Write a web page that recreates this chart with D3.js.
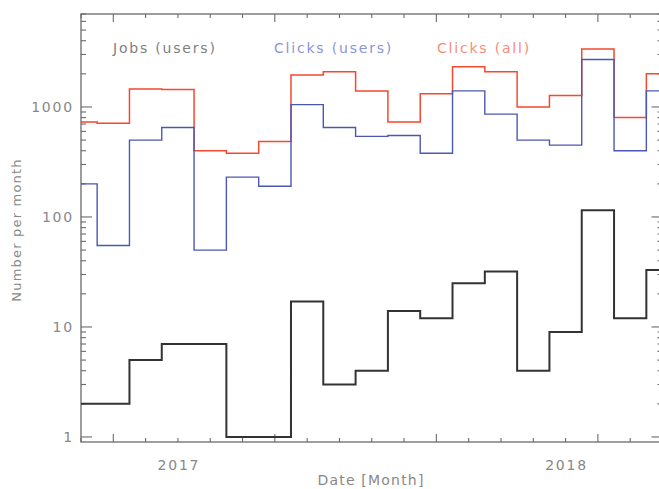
<!DOCTYPE html>
<html>
<head>
<meta charset="utf-8">
<script src="https://cdn.jsdelivr.net/npm/d3@7"></script>
<style>
  body { margin: 0; background: #fff; }
  text { font-family: "DejaVu Sans", sans-serif; }
</style>
</head>
<body>
<svg id="chart" width="659" height="489"></svg>
<script>
// Monthly activity counts, Oct 2016 – Apr 2018
const months = ["2016-10","2016-11","2016-12","2017-01","2017-02","2017-03","2017-04",
                "2017-05","2017-06","2017-07","2017-08","2017-09","2017-10","2017-11",
                "2017-12","2018-01","2018-02","2018-03","2018-04"];
const jobsUsers   = [2, 2, 5, 7, 7, 1, 1, 17, 3, 4, 14, 12, 25, 32, 4, 9, 115, 12, 33];
const clicksUsers = [200, 55, 500, 650, 50, 230, 190, 1050, 650, 540, 550, 380, 1400, 860, 500, 450, 2700, 400, 1400];
const clicksAll   = [730, 710, 1460, 1440, 400, 380, 485, 1950, 2090, 1400, 730, 1320, 2320, 2090, 1000, 1270, 3360, 800, 2000];

// Long x ticks every five months; year labels sit on January
const majorTickMonths = ["2016-11","2017-04","2017-09","2018-02"];
const yMajorTicks = [1, 10, 100, 1000];
const yTickLabels = ["1", "10", "100", "1000"];
const seriesNames = ["Jobs (users)", "Clicks (users)", "Clicks (all)"];

const svg = d3.select("#chart");
const plotLeft = 81, plotRight = 662.5, plotTop = 14, plotBottom = 442;

const x = d3.scaleLinear().domain([0, months.length - 1]).range([plotLeft, plotRight]);
const y = d3.scaleLog().domain([0.9, 7000]).range([plotBottom, plotTop]);

const axisColor = "#6a6a6a";
const textColor = "#888";
const fontSize = 14, spacing = 1.8, titleSpacing = 1.2;

// Plot frame
svg.append("rect")
  .attr("x", plotLeft).attr("y", plotTop)
  .attr("width", plotRight - plotLeft).attr("height", plotBottom - plotTop)
  .attr("fill", "none").attr("stroke", axisColor).attr("stroke-width", 1.3);

// X ticks (bottom and top)
const monthIdx = months.map((m, i) => i);
const xTickLen = i => majorTickMonths.includes(months[i]) ? 8 : 4;
const xt = svg.append("g").attr("stroke", axisColor).attr("stroke-width", 1.1);
xt.selectAll(".xb").data(monthIdx).join("line")
  .attr("x1", d => x(d)).attr("x2", d => x(d))
  .attr("y1", plotBottom).attr("y2", d => plotBottom - xTickLen(d));
xt.selectAll(".xt").data(monthIdx).join("line")
  .attr("x1", d => x(d)).attr("x2", d => x(d))
  .attr("y1", plotTop).attr("y2", d => plotTop + xTickLen(d));

// Year labels under the January ticks
const janIdx = monthIdx.filter(i => months[i].endsWith("-01"));
svg.selectAll(".year").data(janIdx).join("text")
  .attr("x", d => x(d) + 1).attr("y", 470)
  .attr("text-anchor", "middle")
  .attr("font-size", fontSize).attr("letter-spacing", spacing)
  .attr("fill", textColor)
  .text(d => months[d].slice(0, 4));

// Y ticks: decades long, 2..9 short, on left and right
const yMinor = [];
for (let e = 0; e < 4; e++) for (let k = 2; k <= 9; k++) {
  const v = k * Math.pow(10, e);
  if (v <= 7000) yMinor.push(v);
}
const yt = svg.append("g").attr("stroke", axisColor).attr("stroke-width", 1.1);
const yTicks = yMajorTicks.map(v => ({v, len: 11})).concat(yMinor.map(v => ({v, len: 5})));
yt.selectAll(".yl").data(yTicks).join("line")
  .attr("x1", plotLeft).attr("x2", d => plotLeft + d.len)
  .attr("y1", d => y(d.v)).attr("y2", d => y(d.v));
yt.selectAll(".yr").data(yTicks).join("line")
  .attr("x1", plotRight).attr("x2", d => plotRight - d.len)
  .attr("y1", d => y(d.v)).attr("y2", d => y(d.v));

svg.selectAll(".ylab").data(yMajorTicks).join("text")
  .attr("x", 74).attr("y", d => y(d))
  .attr("dy", "0.36em")
  .attr("text-anchor", "end")
  .attr("font-size", fontSize).attr("letter-spacing", spacing)
  .attr("fill", textColor)
  .text((d, i) => yTickLabels[i]);

// Axis titles
svg.append("text")
  .attr("x", 371).attr("y", 485)
  .attr("text-anchor", "middle")
  .attr("font-size", fontSize).attr("letter-spacing", titleSpacing)
  .attr("fill", textColor)
  .text("Date [Month]");
svg.append("text")
  .attr("transform", "translate(21,230) rotate(-90)")
  .attr("text-anchor", "middle")
  .attr("font-size", 13).attr("letter-spacing", titleSpacing)
  .attr("fill", textColor)
  .text("Number per month");

// Histogram-style step lines
svg.append("clipPath").attr("id", "plot-clip")
  .append("rect").attr("x", plotLeft).attr("y", plotTop)
  .attr("width", plotRight - plotLeft).attr("height", plotBottom - plotTop);

const line = d3.line()
  .x((d, i) => x(i))
  .y(d => y(d))
  .curve(d3.curveStep);

const series = [
  {name: seriesNames[2], values: clicksAll,   color: "#f5482c", width: 1.5, label: "#f58d78", lx: 437},
  {name: seriesNames[1], values: clicksUsers, color: "#4a58b4", width: 1.4, label: "#8c94d8", lx: 274},
  {name: seriesNames[0], values: jobsUsers,   color: "#333333", width: 2,   label: "#808080", lx: 113}
];

const g = svg.append("g").attr("clip-path", "url(#plot-clip)");
g.selectAll("path").data(series).join("path")
  .attr("d", d => line(d.values))
  .attr("fill", "none")
  .attr("stroke", d => d.color)
  .attr("stroke-width", d => d.width)
  .attr("stroke-linejoin", "miter");

// Legend entries across the top of the plot
svg.selectAll(".legend").data(series).join("text")
  .attr("x", d => d.lx).attr("y", 53)
  .attr("font-size", fontSize).attr("letter-spacing", spacing)
  .attr("fill", d => d.label)
  .text(d => d.name);
</script>
</body>
</html>
